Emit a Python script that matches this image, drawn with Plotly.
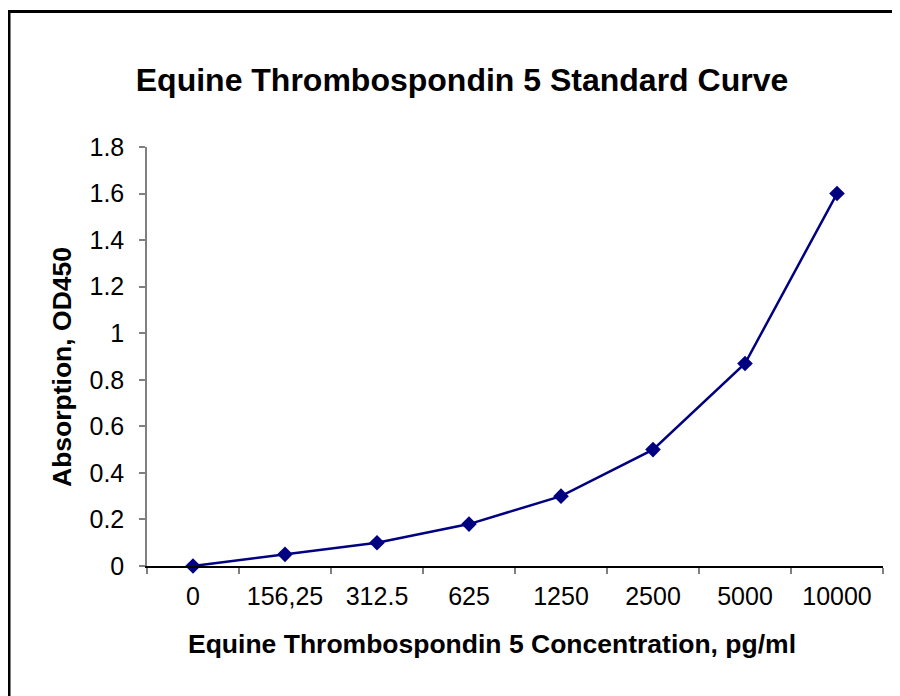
import plotly.graph_objects as go

categories = ["0", "156,25", "312.5", "625", "1250", "2500", "5000", "10000"]
absorption = [0.0, 0.05, 0.10, 0.18, 0.30, 0.50, 0.87, 1.60]
y_ticks = [0, 0.2, 0.4, 0.6, 0.8, 1.0, 1.2, 1.4, 1.6, 1.8]
y_tick_labels = ["0", "0.2", "0.4", "0.6", "0.8", "1", "1.2", "1.4", "1.6", "1.8"]

FONT = "Liberation Sans, Arial, sans-serif"
OFF = 8  # page body margin
W, H = 900 - OFF, 696 - OFF
L, R, T, B = 147 - OFF, 17, 147 - OFF, 130
pw, ph = W - L - R, H - T - B
# plot area in page pixels: x 147..883, y 147..566

fig = go.Figure()
fig.add_trace(go.Scatter(
    x=categories, y=absorption, mode="lines+markers",
    line=dict(color="#000080", width=2.5),
    marker=dict(symbol="diamond", size=12, color="#000080"),
    showlegend=False, cliponaxis=False,
))

fig.update_layout(
    width=W, height=H,
    margin=dict(l=L, r=R, t=T, b=B),
    paper_bgcolor="white", plot_bgcolor="white",
    font=dict(family=FONT, color="black"),
    title=dict(text="<b>Equine Thrombospondin 5 Standard Curve</b>",
               font=dict(size=32, family=FONT, color="black"),
               x=(462 - OFF) / W, xanchor="center", xref="container",
               y=1 - (80 - OFF) / H, yanchor="middle", yref="container"),
    xaxis=dict(
        type="category", range=[-0.5, 7.5],
        showline=True, linecolor="black", linewidth=1.5,
        ticks="outside", tickson="boundaries", ticklen=6, tickcolor="#808080", tickwidth=1.5,
        showgrid=False, zeroline=False,
        tickfont=dict(size=25, family=FONT, color="black"),
        ticklabelstandoff=7,
    ),
    yaxis=dict(
        range=[0, 1.8], tickvals=y_ticks, ticktext=y_tick_labels,
        showline=True, linecolor="#808080", linewidth=1.5,
        ticks="outside", ticklen=6, tickcolor="#808080", tickwidth=1.5,
        showgrid=False, zeroline=False,
        tickfont=dict(size=25, family=FONT, color="black"),
        ticklabelstandoff=10,
    ),
)

# axis titles placed as in the reference
fig.add_annotation(text="<b>Equine Thrombospondin 5 Concentration, pg/ml</b>",
                   xref="paper", yref="paper",
                   x=(492 - 147) / pw, y=(566 - 644) / ph,
                   xanchor="center", yanchor="middle", showarrow=False,
                   font=dict(size=26.5, family=FONT, color="black"))
fig.add_annotation(text="<b>Absorption, OD450</b>",
                   xref="paper", yref="paper",
                   x=(62 - 147) / pw, y=(566 - 367) / ph, textangle=-90,
                   xanchor="center", yanchor="middle", showarrow=False,
                   font=dict(size=26.5, family=FONT, color="black"))

# outer chart border (only top and left edges are within view)
fig.add_shape(type="rect", xref="paper", yref="paper",
              x0=(9 - 147) / pw, x1=(W + 20 - L) / pw,
              y0=-(B + 20) / ph, y1=(566 - 11.5) / ph,
              line=dict(color="black", width=3), fillcolor="rgba(0,0,0,0)", layer="below")

fig.write_html("out.html")
